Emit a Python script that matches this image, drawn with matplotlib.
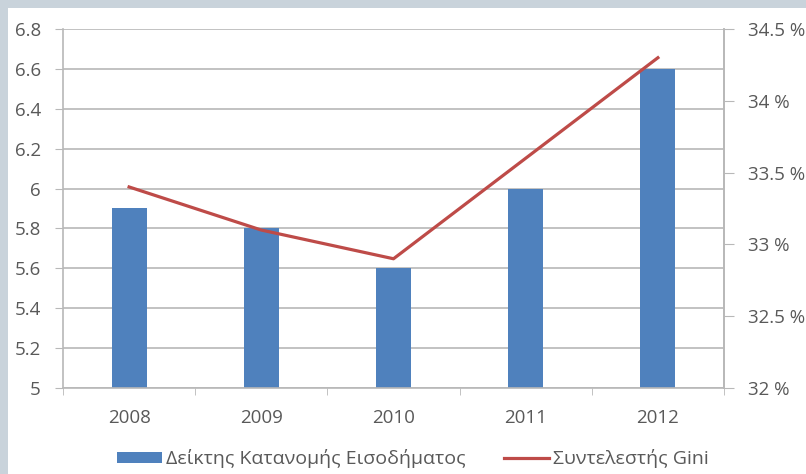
import matplotlib.pyplot as plt
import numpy as np
from matplotlib import patches
from matplotlib.lines import Line2D

years = ['2008', '2009', '2010', '2011', '2012']
income_index = [5.9, 5.8, 5.6, 6.0, 6.6]
gini = [33.4, 33.1, 32.9, 33.6, 34.3]
left_ticks = [5, 5.2, 5.4, 5.6, 5.8, 6, 6.2, 6.4, 6.6, 6.8]
right_ticks = [32, 32.5, 33, 33.5, 34, 34.5]

plt.rcParams['font.family'] = ['Open Sans', 'DejaVu Sans']
txt = '#595959'
bar_col = '#4f81bd'
line_col = '#be4b48'
grid_col = '#b8b8b8'

fig = plt.figure(figsize=(8.06, 4.74), dpi=100)
fig.patch.set_facecolor('#c9d3db')
# white panel, gray strip only on top and left
fig.add_artist(patches.Rectangle((8 / 806, 0), 1, (474 - 8) / 474,
                                 transform=fig.transFigure, facecolor='white',
                                 edgecolor='none', zorder=0))

ax = fig.add_axes([63 / 806, 1 - 388 / 474, (724 - 63) / 806, (388 - 29) / 474])
ax.set_facecolor('none')
x = np.arange(len(years))
ax.bar(x, income_index, width=0.265, color=bar_col, zorder=2)
ax.set_xlim(-0.5, len(years) - 0.5)
ax.set_ylim(5, 6.8)
ax.set_yticks(left_ticks)
ax.set_yticklabels([('%g' % v) for v in left_ticks])
ax.set_xticks(x)
ax.set_xticklabels(years)
ax.set_xticks(np.arange(len(years) + 1) - 0.5, minor=True)
ax.yaxis.grid(True, color=grid_col, linewidth=1.2)
ax.set_axisbelow(True)
ax.spines['top'].set_visible(False)
for s in ['left', 'right', 'bottom']:
    ax.spines[s].set_color(grid_col)
    ax.spines[s].set_linewidth(1.2)
ax.tick_params(axis='y', direction='out', length=6, color=grid_col,
               labelcolor=txt, labelsize=13.5, pad=10)
ax.tick_params(axis='x', which='major', length=0, labelcolor=txt,
               labelsize=13.5, pad=15)
ax.tick_params(axis='x', which='minor', direction='out', length=5,
               color=grid_col)

ax2 = ax.twinx()
ax2.plot(x, gini, color=line_col, linewidth=2.3, zorder=3)
ax2.set_ylim(32, 34.5)
ax2.set_yticks(right_ticks)
ax2.set_yticklabels([('%g %%' % v) for v in right_ticks])
for s in ['top', 'left', 'bottom']:
    ax2.spines[s].set_visible(False)
ax2.spines['right'].set_color(grid_col)
ax2.spines['right'].set_linewidth(1.2)
ax2.tick_params(axis='y', direction='out', length=7, color=grid_col,
                labelcolor=txt, labelsize=13.5, pad=10)

handles = [patches.Patch(facecolor=bar_col, edgecolor='none'),
           Line2D([0], [0], color=line_col, linewidth=2.3)]
fig.legend(handles, ['Δείκτης Κατανομής Εισοδήματος', 'Συντελεστής Gini'],
           loc='center', bbox_to_anchor=(413 / 806, 1 - 459 / 474), ncol=2,
           frameon=False, fontsize=14, labelcolor=txt, handlelength=2.3,
           handleheight=0.5, handletextpad=0.2, columnspacing=2.0,
           borderaxespad=0, borderpad=0)

fig.savefig('out.png', dpi=100, facecolor=fig.get_facecolor())
